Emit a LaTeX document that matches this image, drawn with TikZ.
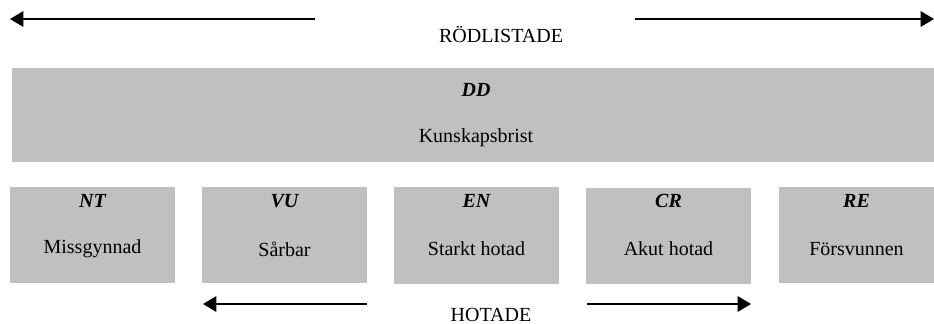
\documentclass[tikz,border=0pt]{standalone}
\usepackage{fontspec}
\setmainfont{Liberation Serif}
\usetikzlibrary{arrows.meta}
\definecolor{boxgray}{HTML}{C0C0C0}
\tikzset{
  catbox/.style={fill=boxgray, draw=none, inner sep=0pt, anchor=north west},
  code/.style={font=\fontsize{15}{18}\selectfont\bfseries\itshape, inner sep=0pt},
  lbl/.style={font=\fontsize{15}{18}\selectfont, inner sep=0pt},
  bigarrow/.style={line width=1.6pt, -{Triangle[length=10pt,width=11.5pt]}}
}
\begin{document}
\begin{tikzpicture}[x=0.75pt,y=-0.75pt]
\useasboundingbox (0,0) rectangle (934,324);
% top
\node[lbl] (rod) at (501,34) {RÖDLISTADE};
\coordinate (tl1) at (315,19); \coordinate (tl2) at (10,19);
\coordinate (tr1) at (635,19); \coordinate (tr2) at (934,19);
\draw[bigarrow] (tl1) -- (tl2);
\draw[bigarrow] (tr1) -- (tr2);
% DD
\node[catbox, minimum width=922*0.75pt, minimum height=94*0.75pt] (dd) at (12,68) {};
\node[code] (ddc) at (476,90) {DD};
\node[lbl] (ddl) at (476,138) {Kunskapsbrist};
% bottom boxes
\node[catbox, minimum width=165*0.75pt, minimum height=96*0.75pt] (nt) at (10,187) {};
\node[catbox, minimum width=165*0.75pt, minimum height=96*0.75pt] (vu) at (202,187) {};
\node[catbox, minimum width=165*0.75pt, minimum height=97*0.75pt] (en) at (394,187) {};
\node[catbox, minimum width=165*0.75pt, minimum height=96*0.75pt] (cr) at (586,188) {};
\node[catbox, minimum width=155*0.75pt, minimum height=96*0.75pt] (re) at (779,187) {};
\node[code] (ntc) at (92.5,201) {NT};
\node[code] (vuc) at (284.5,201) {VU};
\node[code] (enc) at (476.5,201) {EN};
\node[code] (crc) at (668.5,201) {CR};
\node[code] (rec) at (856.5,201) {RE};
\node[lbl] (ntl) at (92.5,249) {Missgynnad};
\node[lbl] (vul) at (284.5,249) {Sårbar};
\node[lbl] (enl) at (476.5,249) {Starkt hotad};
\node[lbl] (crl) at (668.5,249) {Akut hotad};
\node[lbl] (rel) at (856.5,249) {Försvunnen};
% bottom arrows
\node[lbl, anchor=base] (hot) at (491,321) {HOTADE};
\coordinate (bl1) at (367,304); \coordinate (bl2) at (203,304);
\coordinate (br1) at (587,304); \coordinate (br2) at (751,304);
\draw[bigarrow] (bl1) -- (bl2);
\draw[bigarrow] (br1) -- (br2);
\end{tikzpicture}
\end{document}
